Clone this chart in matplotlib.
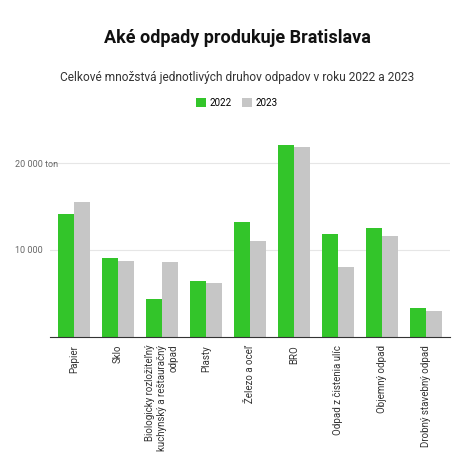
import matplotlib
matplotlib.use("Agg")
import matplotlib.pyplot as plt
import numpy as np

plt.rcParams['font.family'] = ['Roboto', 'DejaVu Sans']

categories = ["Papier", "Sklo", "Biologicky rozložiteľný\nkuchynský a reštauračný\nodpad", "Plasty",
              "Železo a oceľ", "BRO", "Odpad z čistenia ulíc", "Objemný odpad", "Drobný stavebný odpad"]
values_2022 = [14150, 9000, 4380, 6400, 13150, 22130, 11800, 12470, 3260]
values_2023 = [15500, 8760, 8540, 6180, 11000, 21900, 7980, 11570, 2920]

green = '#33c52a'
grey = '#c6c6c6'

left, width = 0.105, 0.845
fig = plt.figure(figsize=(4.74, 4.74), dpi=100)
ax = fig.add_axes([left, 0.29, width, 0.43])

x = np.arange(len(categories))
w = 0.36
ax.bar(x - w/2, values_2022, w, color=green, label='2022')
ax.bar(x + w/2, values_2023, w, color=grey, label='2023')

ax.set_xlim(-0.55, len(categories) - 0.45)
ax.set_ylim(0, 23500)
ax.set_yticks([10000, 20000])
ax.set_yticklabels(['10 000', '20 000 ton'], fontsize=6.5, color='#666666')
ax.tick_params(axis='y', length=0)
for lbl in ax.get_yticklabels():
    lbl.set_horizontalalignment('left')
    lbl.set_x((0.042 - left) / width)
ax.grid(axis='y', color='#e6e6e6', linewidth=0.8)
ax.set_axisbelow(True)
for s in ['top', 'right', 'left']:
    ax.spines[s].set_visible(False)
ax.spines['bottom'].set_color('#333333')
ax.set_xticks(x)
ax.set_xticklabels(categories, rotation=90, fontsize=7, color='#333333', va='top', ha='center', multialignment='right')
ax.tick_params(axis='x', length=0, pad=6)

fig.text(0.5, 0.91, "Aké odpady produkuje Bratislava", ha='center', fontsize=13, fontweight='bold', color='#111111')
fig.text(0.5, 0.83, "Celkové množstvá jednotlivých druhov odpadov v roku 2022 a 2023", ha='center', fontsize=8.6, color='#333333')
fig.legend(loc='center', bbox_to_anchor=(0.5, 0.783), ncol=2, frameon=False, fontsize=7,
           handlelength=1.0, handleheight=1.0, columnspacing=1.0, handletextpad=0.4)

fig.savefig('out.png', dpi=100, facecolor='white')
